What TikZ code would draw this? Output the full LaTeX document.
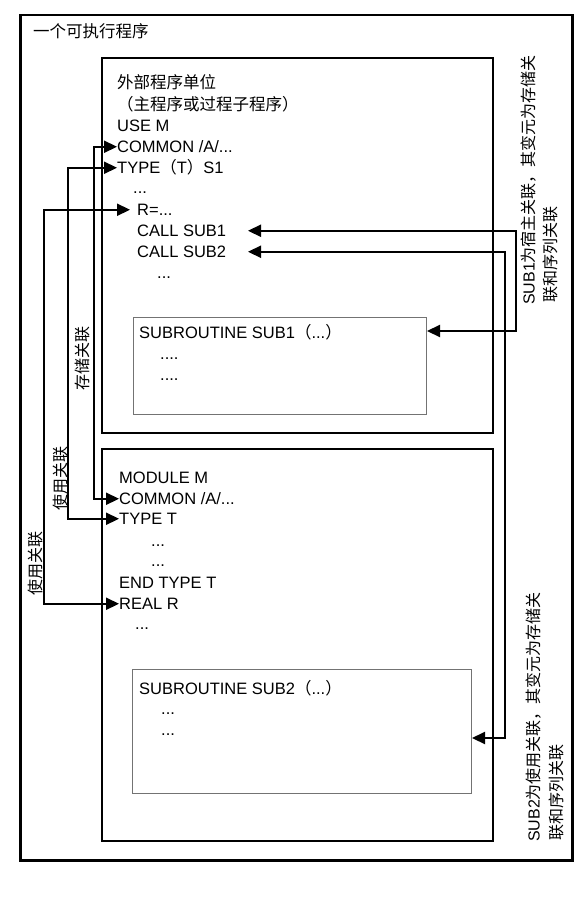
\documentclass[tikz,border=0pt]{standalone}
\usepackage{fontspec}
\setmainfont{Liberation Sans}
\newfontfamily\cjk{Noto Sans CJK SC}
\usetikzlibrary{arrows.meta,calc}
\begin{document}
\begin{tikzpicture}[x=1pt,y=-1pt,
  every node/.style={inner sep=0pt, font=\fontsize{16.5}{19}\selectfont},
  code/.style={anchor=base west, text height=11.5pt, text depth=0pt},
  vlabel/.style={rotate=90, anchor=center, font=\fontsize{16}{19}\selectfont\cjk},
  note/.style={rotate=90, anchor=base west, font=\fontsize{16}{19}\selectfont},
  outerbox/.style={draw, line width=2.5pt, anchor=north west},
  unitbox/.style={draw, line width=1.6pt, anchor=north west},
  subbox/.style={draw=black!55, line width=1pt, anchor=north west},
  tip/.tip={Triangle[length=13pt,width=12pt]},
  assoc/.style={line width=2.2pt, tip-tip}
]
\useasboundingbox (0,0) rectangle (585,909);

% boxes
\node[outerbox, minimum width=552pt, minimum height=845pt] (prog) at (19,14) {};
\node[unitbox, minimum width=391pt, minimum height=375pt] (ext) at (101,57) {};
\node[unitbox, minimum width=391pt, minimum height=392pt] (mod) at (101,448) {};
\node[subbox, minimum width=293pt, minimum height=97pt] (s1) at (133,317) {};
\node[subbox, minimum width=339pt, minimum height=124pt] (s2) at (132,669) {};

% title
\node[code] (title) at (33,38) {\cjk 一个可执行程序};

% external program unit
\node[code] (hdr1) at (117,88.5) {\cjk 外部程序单位};
\node[code] (hdr2) at (117,110.5) {\cjk （主程序或过程子程序）};
\node[code] (use) at (117,131.5) {USE M};
\node[code] (cu) at (117,152.5) {COMMON /A/...};
\node[code] (tu) at (117,173.5) {TYPE{\cjk （}T{\cjk ）}S1};
\node[code] (d1) at (133,194) {...};
\node[code] (r) at (137,215.5) {R=...};
\node[code] (c1) at (137,236.5) {CALL SUB1};
\node[code] (c2) at (137,257.5) {CALL SUB2};
\node[code] (d2) at (157,278) {...};

\node[code] (s1t) at (139,338.5) {SUBROUTINE SUB1{\cjk （}...{\cjk ）}};
\node[code] (s1d1) at (160,359) {....};
\node[code] (s1d2) at (160,380) {....};

% module
\node[code] (mm) at (119,483.5) {MODULE M};
\node[code] (cl) at (119,504.5) {COMMON /A/...};
\node[code] (tl) at (119,524.5) {TYPE T};
\node[code] (d3) at (151,546) {...};
\node[code] (d4) at (151,566) {...};
\node[code] (et) at (119,588.5) {END TYPE T};
\node[code] (rl) at (119,609.5) {REAL R};
\node[code] (d5) at (135,629) {...};

\node[code] (s2t) at (139,694.5) {SUBROUTINE SUB2{\cjk （}...{\cjk ）}};
\node[code] (s2d1) at (161,714) {...};
\node[code] (s2d2) at (161,735) {...};

% association connectors
\draw[assoc] (cu.west) -- ++(-23,0) |- (cl.west);
\draw[assoc] (tu.west) -- ++(-49,0) |- (tl.west);
\draw[assoc, shorten <=7pt] (r.west) -- ++(-93,0) |- (rl.west);

\coordinate (a1) at (248,0);
\coordinate (v1) at (516,0);
\coordinate (v2) at (505,0);
\coordinate (t1) at ($(s1.north east)+(0,14)$);
\coordinate (t2) at ($(s2.north east)+(0,69)$);
\draw[assoc] (c1.west -| a1) -- (c1.west -| v1) |- (t1);
\draw[assoc] (c2.west -| a1) -- (c2.west -| v2) |- (t2);

% labels on connectors
\node[vlabel] (lstore) at (82,358) {存储关联};
\node[vlabel] (luse1) at (60,478) {使用关联};
\node[vlabel] (luse2) at (35,563) {使用关联};

% notes on the right
\node[note] (n1a) at (534.5,305) {SUB1{\cjk 为宿主关联，其变元为存储关}};
\node[note] (n1b) at (556,303) {\cjk 联和序列关联};
\node[note] (n2a) at (539.5,842) {SUB2{\cjk 为使用关联，其变元为存储关}};
\node[note] (n2b) at (562,841) {\cjk 联和序列关联};
\end{tikzpicture}
\end{document}
